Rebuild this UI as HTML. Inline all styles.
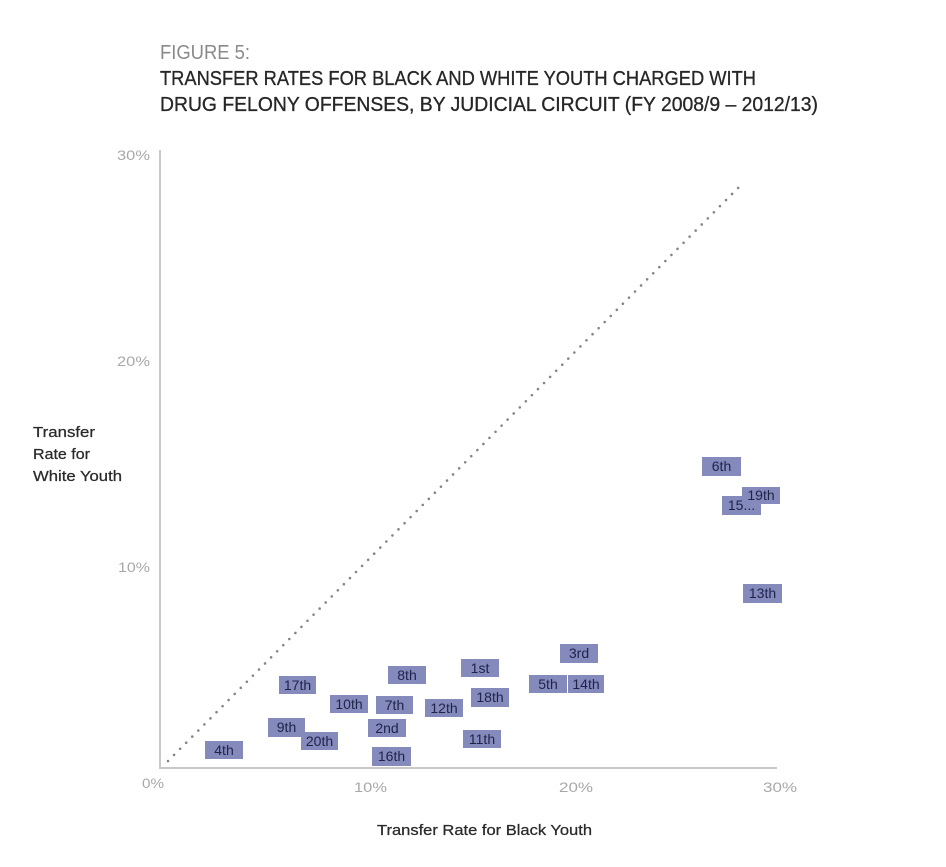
<!DOCTYPE html>
<html>
<head>
<meta charset="utf-8">
<style>
  html,body{margin:0;padding:0;background:#fff;}
  svg{display:block;}
  text{font-family:"Liberation Sans",sans-serif;}
  .box{fill:#858abd;}
  .lbl{font-size:14px;fill:#1f2348;text-anchor:middle;}
  .tick{font-size:14px;fill:#a8a8a8;}
  .ax{font-size:14.5px;fill:#2a2a2a;stroke:#2a2a2a;stroke-width:0.25;}
  .ttl{stroke:#262626;stroke-width:0.3;}
</style>
</head>
<body>
<svg width="946" height="867" viewBox="0 0 946 867" xmlns="http://www.w3.org/2000/svg">
  <rect width="946" height="867" fill="#fff"/>
  <!-- Title -->
  <text x="160" y="59" font-size="20" fill="#8a8a8a" textLength="90" lengthAdjust="spacingAndGlyphs">FIGURE 5:</text>
  <text class="ttl" x="160" y="85" font-size="20" fill="#262626" textLength="596" lengthAdjust="spacingAndGlyphs">TRANSFER RATES FOR BLACK AND WHITE YOUTH CHARGED WITH</text>
  <text class="ttl" x="160" y="111" font-size="20" fill="#262626" textLength="658" lengthAdjust="spacingAndGlyphs">DRUG FELONY OFFENSES, BY JUDICIAL CIRCUIT (FY 2008/9 – 2012/13)</text>

  <!-- Axes -->
  <line x1="160" y1="150" x2="160" y2="769" stroke="#c9c9c9" stroke-width="2"/>
  <line x1="159" y1="768" x2="777" y2="768" stroke="#c9c9c9" stroke-width="2"/>

  <!-- Y ticks -->
  <text class="tick" x="117" y="160" textLength="33" lengthAdjust="spacingAndGlyphs">30%</text>
  <text class="tick" x="117" y="366" textLength="33" lengthAdjust="spacingAndGlyphs">20%</text>
  <text class="tick" x="118" y="572" textLength="32" lengthAdjust="spacingAndGlyphs">10%</text>
  <!-- X ticks -->
  <text class="tick" x="142" y="788" textLength="22" lengthAdjust="spacingAndGlyphs">0%</text>
  <text class="tick" x="354" y="792" textLength="33" lengthAdjust="spacingAndGlyphs">10%</text>
  <text class="tick" x="559" y="792" textLength="34" lengthAdjust="spacingAndGlyphs">20%</text>
  <text class="tick" x="763" y="792" textLength="34" lengthAdjust="spacingAndGlyphs">30%</text>

  <!-- Axis titles -->
  <text class="ax" x="33" y="437" textLength="62" lengthAdjust="spacingAndGlyphs">Transfer</text>
  <text class="ax" x="33" y="459" textLength="57" lengthAdjust="spacingAndGlyphs">Rate for</text>
  <text class="ax" x="33" y="481" textLength="89" lengthAdjust="spacingAndGlyphs">White Youth</text>
  <text class="ax" x="377" y="835" textLength="215" lengthAdjust="spacingAndGlyphs">Transfer Rate for Black Youth</text>

  <!-- Diagonal dotted line -->
  <line x1="168" y1="761" x2="743" y2="183" stroke="#858585" stroke-width="2.6" stroke-dasharray="0 8.6" stroke-linecap="round"/>

  <!-- Data labels -->
  <g>
    <rect class="box" x="205" y="741" width="38" height="18"/><text class="lbl" x="224" y="755">4th</text>
    <rect class="box" x="268" y="718" width="37" height="19"/><text class="lbl" x="286.5" y="732">9th</text>
    <rect class="box" x="301" y="732" width="37" height="18"/><text class="lbl" x="319.5" y="746">20th</text>
    <rect class="box" x="279" y="676" width="37" height="18"/><text class="lbl" x="297.5" y="690">17th</text>
    <rect class="box" x="330" y="695" width="38" height="18"/><text class="lbl" x="349" y="709">10th</text>
    <rect class="box" x="376" y="696" width="37" height="18"/><text class="lbl" x="394.5" y="710">7th</text>
    <rect class="box" x="388" y="666" width="38" height="18"/><text class="lbl" x="407" y="680">8th</text>
    <rect class="box" x="368" y="719" width="38" height="18"/><text class="lbl" x="387" y="733">2nd</text>
    <rect class="box" x="372" y="747" width="39" height="19"/><text class="lbl" x="391.5" y="761">16th</text>
    <rect class="box" x="425" y="699" width="38" height="18"/><text class="lbl" x="444" y="713">12th</text>
    <rect class="box" x="461" y="659" width="38" height="18"/><text class="lbl" x="480" y="673">1st</text>
    <rect class="box" x="471" y="688" width="38" height="19"/><text class="lbl" x="490" y="702">18th</text>
    <rect class="box" x="463" y="730" width="38" height="18"/><text class="lbl" x="482" y="744">11th</text>
    <rect class="box" x="560" y="644" width="38" height="19"/><text class="lbl" x="579" y="658">3rd</text>
    <rect class="box" x="529" y="675" width="38" height="18"/><text class="lbl" x="548" y="689">5th</text>
    <rect class="box" x="568" y="675" width="36" height="18"/><text class="lbl" x="586" y="689">14th</text>
    <rect class="box" x="702" y="457" width="39" height="19"/><text class="lbl" x="721.5" y="471">6th</text>
    <rect class="box" x="722" y="496" width="39" height="19"/><text class="lbl" x="741.5" y="510">15...</text>
    <rect class="box" x="742" y="487" width="38" height="17"/><text class="lbl" x="761" y="500">19th</text>
    <rect class="box" x="743" y="584" width="39" height="19"/><text class="lbl" x="762.5" y="598">13th</text>
  </g>
</svg>
</body>
</html>
